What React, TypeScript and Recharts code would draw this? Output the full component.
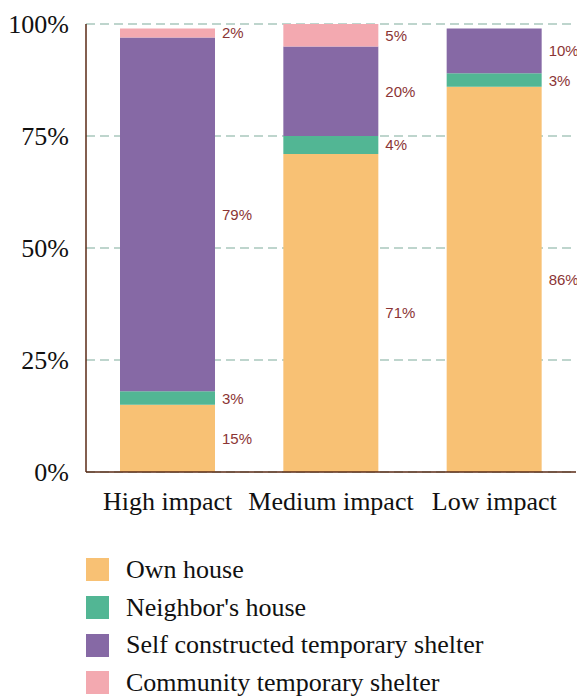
import { Bar, BarChart, CartesianGrid, LabelList, Legend, XAxis, YAxis } from "recharts";

const categories = ["High impact", "Medium impact", "Low impact"];
const ownHouse = [15, 71, 86];
const neighborHouse = [3, 4, 3];
const selfShelter = [79, 20, 10];
const communityShelter = [2, 5, null];
const yTicks = [0, 25, 50, 75, 100];

const series = [
  { key: "own", name: "Own house", color: "#F8C174", values: ownHouse },
  { key: "neighbor", name: "Neighbor's house", color: "#52B694", values: neighborHouse },
  { key: "self", name: "Self constructed temporary shelter", color: "#8669A5", values: selfShelter },
  { key: "community", name: "Community temporary shelter", color: "#F3A9B0", values: communityShelter },
];

const data = categories.map((c, i) => {
  const row: Record<string, string | number | null> = { category: c };
  series.forEach((s) => (row[s.key] = s.values[i]));
  return row;
});

const SERIF = "'Liberation Serif', 'Times New Roman', serif";
const AXIS = "#5A2A16";

function SideLabel(props: any) {
  const { x, y, width, height, value } = props;
  if (value == null || value === 0) return null;
  return (
    <text
      x={Number(x) + Number(width) + 7}
      y={Number(y) + Number(height) / 2}
      dominantBaseline="central"
      fill="#8B3535"
      fontSize={15}
      fontFamily="'Liberation Sans', Arial, sans-serif"
    >
      {value}%
    </text>
  );
}

function LegendBox() {
  return (
    <div style={{ fontFamily: SERIF, fontSize: 26, color: "#111" }}>
      {series.map((s) => (
        <div key={s.key} style={{ display: "flex", alignItems: "center", height: 37.7 }}>
          <span style={{ width: 23, height: 23, background: s.color, marginRight: 17, display: "inline-block" }} />
          <span style={{ lineHeight: "26px" }}>{s.name}</span>
        </div>
      ))}
    </div>
  );
}

export default function App() {
  return (
    <div style={{ marginLeft: -8, marginTop: -8, width: 585, height: 697 }}>
      <BarChart
        width={585}
        height={697}
        data={data}
        margin={{ top: 24, right: 9, left: 0, bottom: 185 }}
        style={{ overflow: "visible" }}
      >
        <CartesianGrid vertical={false} stroke="#A9C7BD" strokeDasharray="9 5" strokeWidth={1.5} />
        <XAxis
          dataKey="category"
          height={40}
          tickLine={false}
          tickSize={0}
          tickMargin={20}
          axisLine={{ stroke: AXIS, strokeWidth: 1.5 }}
          tick={{ fill: "#111", fontSize: 26, fontFamily: SERIF }}
          interval={0}
        />
        <YAxis
          width={86}
          domain={[0, 100]}
          ticks={yTicks}
          tickFormatter={(v) => `${v}%`}
          tickLine={false}
          tickSize={0}
          tickMargin={17}
          axisLine={{ stroke: AXIS, strokeWidth: 1.5 }}
          tick={{ fill: "#111", fontSize: 26, fontFamily: SERIF }}
        />
        <Legend
          layout="vertical"
          align="center"
          verticalAlign="middle"
          wrapperStyle={{ top: 551, left: 86 }}
          content={() => <LegendBox />}
        />
        {series.map((s) => (
          <Bar
            key={s.key}
            dataKey={s.key}
            name={s.name}
            stackId="a"
            fill={s.color}
            barSize={95}
            isAnimationActive={false}
          >
            <LabelList dataKey={s.key} content={SideLabel} />
          </Bar>
        ))}
      </BarChart>
    </div>
  );
}
